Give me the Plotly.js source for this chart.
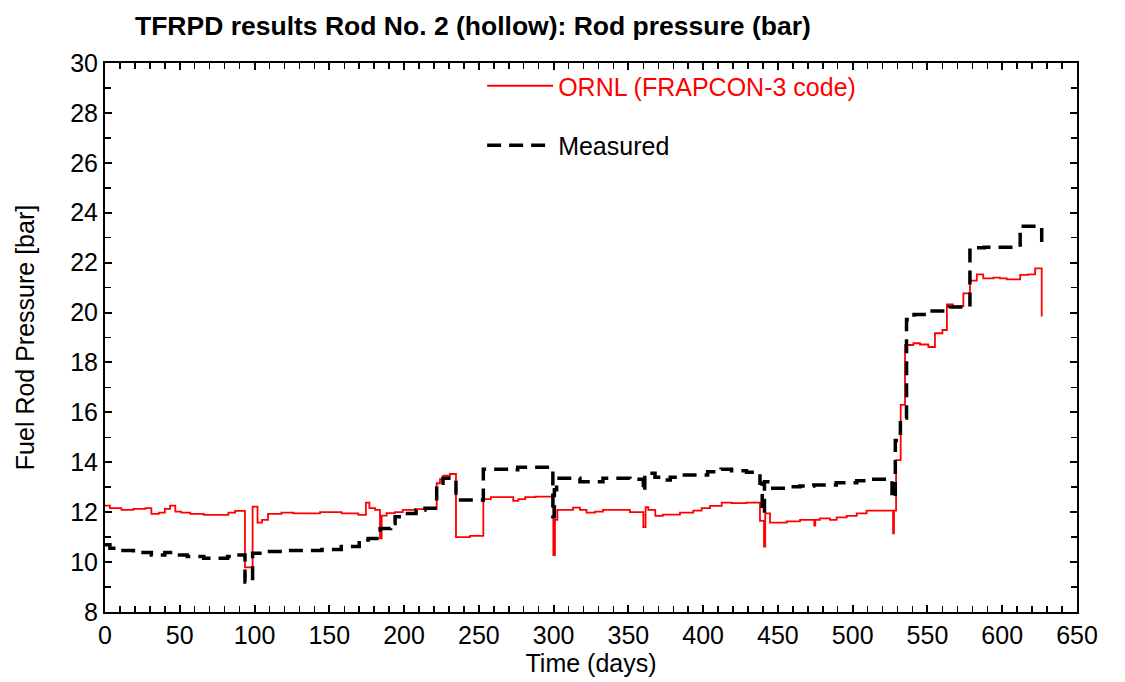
<!DOCTYPE html>
<html>
<head>
<meta charset="utf-8">
<script src="https://cdn.plot.ly/plotly-3.0.1.min.js"></script>
<style>html,body{margin:0;padding:0;background:#fff;}#chart{width:1125px;height:682px;}</style>
</head>
<body>
<div id="chart"></div>
<script>
// ORNL (FRAPCON-3 code) calculated rod pressure: step start day and value (bar)
const ornlDays = [0, 3.3, 11, 19, 27, 31, 36, 40, 43.5, 47, 51, 57, 66, 82.5, 87, 93.6, 98.7, 102, 105, 109, 118, 126, 143.8, 158.3, 169.4, 174.5, 176.8, 180.6, 183.9, 185, 188.4, 193.9, 199.1, 208.4, 221.8, 224, 226.2, 230.7, 234.7, 244.1, 253, 258, 273, 276.4, 281, 288, 299.8, 300.9, 302.5, 313, 317.6, 322, 327.7, 333, 351, 360, 361.5, 363.3, 368, 373, 384.5, 393.4, 399, 404.6, 412.4, 419, 429, 438, 440.7, 441.5, 444.7, 455.9, 464.8, 474.3, 475, 478, 484.8, 489.3, 496, 502.7, 509.3, 527, 527.6, 529, 532.1, 535, 540.6, 545, 550.6, 555, 560, 563, 567, 574, 578.4, 583, 587.3, 594, 598.5, 603, 612, 617.4, 622, 626.4];
const ornlPressure = [12.26, 12.16, 12.09, 12.13, 12.16, 11.93, 11.98, 12.13, 12.26, 12.02, 11.98, 11.93, 11.89, 11.98, 12.05, 9.79, 12.22, 11.58, 11.69, 11.93, 11.98, 11.95, 12.0, 11.95, 11.89, 12.38, 12.16, 12.09, 10.95, 11.86, 11.96, 12.0, 12.09, 12.12, 13.16, 13.32, 13.46, 13.53, 11.0, 11.05, 12.52, 12.6, 12.45, 12.52, 12.6, 12.62, 10.28, 11.69, 12.09, 12.18, 12.09, 11.98, 12.02, 12.09, 12.0, 11.4, 12.2, 12.09, 11.85, 11.9, 11.98, 12.06, 12.16, 12.25, 12.38, 12.36, 12.38, 11.65, 10.62, 11.95, 11.58, 11.63, 11.69, 11.46, 11.69, 11.75, 11.69, 11.79, 11.85, 11.95, 12.06, 11.15, 12.06, 14.09, 16.3, 18.7, 18.77, 18.72, 18.62, 19.17, 19.3, 20.33, 20.25, 20.77, 21.28, 21.53, 21.37, 21.4, 21.37, 21.33, 21.51, 21.53, 21.77, 19.84];

// Measured rod pressure: step start day and value (bar)
const measDays = [0, 3.3, 8, 19, 31, 40, 47, 55, 66, 82, 88, 93.6, 98.7, 110, 120, 145, 158, 170, 176, 184, 191, 194, 199, 208, 214, 221.8, 226, 234.7, 253, 270, 276, 299.5, 300.5, 302, 317.6, 333, 351, 360, 361, 367.8, 373, 378, 384.5, 403, 412, 419, 429, 438, 439.5, 441, 444.7, 455.9, 464.8, 474, 489, 502.7, 509, 526.3, 528.5, 531.9, 536, 541, 550, 564.5, 578.4, 588, 612, 626.4];
const measPressure = [10.69, 10.55, 10.46, 10.38, 10.28, 10.38, 10.28, 10.22, 10.15, 10.22, 10.28, 9.2, 10.35, 10.42, 10.46, 10.5, 10.62, 10.89, 10.95, 11.35, 11.55, 11.82, 11.95, 12.09, 12.16, 13.16, 13.36, 12.49, 13.72, 13.7, 13.8, 11.82, 12.9, 13.36, 13.22, 13.36, 13.32, 12.82, 13.56, 13.4, 13.29, 13.4, 13.49, 13.62, 13.72, 13.66, 13.6, 13.16, 11.96, 13.22, 12.96, 13.02, 13.05, 13.09, 13.18, 13.26, 13.32, 12.57, 14.87, 15.77, 19.72, 19.92, 20.06, 20.22, 22.6, 22.62, 23.46, 22.64];

const xTickVals = [0, 50, 100, 150, 200, 250, 300, 350, 400, 450, 500, 550, 600, 650];
const yTickVals = [8, 10, 12, 14, 16, 18, 20, 22, 24, 26, 28, 30];

const FONT = '"Liberation Sans", Arial, Helvetica, sans-serif';

const traces = [
  {
    x: ornlDays, y: ornlPressure, type: 'scatter', mode: 'lines',
    line: {shape: 'hv', color: '#ff0000', width: 1.8},
    name: '<span style="color:#ff0000">ORNL (FRAPCON-3 code)</span>',
    legendgroup: 'a'
  },
  {
    x: measDays, y: measPressure, type: 'scatter', mode: 'lines',
    line: {shape: 'hv', color: '#000000', width: 3.5, dash: '14px,8px'},
    name: 'Measured',
    legendgroup: 'b'
  }
];

const layout = {
  width: 1125, height: 682,
  paper_bgcolor: '#ffffff', plot_bgcolor: '#ffffff',
  margin: {l: 105, r: 48, t: 63, b: 70},
  font: {family: FONT, size: 25, color: '#000'},
  title: {
    text: '<b>TFRPD results Rod No. 2 (hollow): Rod pressure (bar)</b>',
    font: {family: FONT, size: 26.5, color: '#000'},
    x: 0.12, xref: 'container', xanchor: 'left',
    y: 0.963, yref: 'container', yanchor: 'middle'
  },
  xaxis: {
    range: [0, 650], tickvals: xTickVals, ticktext: xTickVals.map(String),
    ticks: 'inside', ticklen: 7, tickwidth: 2, tickcolor: '#000',
    minor: {dtick: 10, tick0: 0, ticks: 'inside', ticklen: 6, tickwidth: 1.5, tickcolor: '#000'},
    showline: true, linecolor: '#000', linewidth: 2, mirror: 'ticks',
    showgrid: false, zeroline: false,
    tickfont: {family: FONT, size: 25},
    title: {text: 'Time (days)', font: {family: FONT, size: 25}, standoff: 4}
  },
  yaxis: {
    range: [8, 30], tickvals: yTickVals, ticktext: yTickVals.map(String),
    ticks: 'inside', ticklen: 7, tickwidth: 2, tickcolor: '#000',
    minor: {dtick: 1, tick0: 8, ticks: 'inside', ticklen: 6, tickwidth: 1.5, tickcolor: '#000'},
    showline: true, linecolor: '#000', linewidth: 2, mirror: 'ticks',
    showgrid: false, zeroline: false,
    tickfont: {family: FONT, size: 25},
    title: {text: 'Fuel Rod Pressure [bar]', font: {family: FONT, size: 25}, standoff: 28}
  },
  xaxis2: {
    overlaying: 'x', anchor: 'y', range: [0, 650], tickvals: xTickVals,
    ticks: 'outside', ticklen: 7, tickwidth: 2, tickcolor: '#000', mirror: 'ticks',
    showticklabels: false, showline: false, showgrid: false, zeroline: false
  },
  yaxis2: {
    overlaying: 'y', anchor: 'x', side: 'left', range: [8, 30], tickvals: yTickVals,
    ticks: 'outside', ticklen: 7, tickwidth: 2, tickcolor: '#000',
    showticklabels: false, showline: false, showgrid: false, zeroline: false
  },
  showlegend: true,
  legend: {
    x: 0.388, y: 1.0, xanchor: 'left', yanchor: 'top',
    bgcolor: 'rgba(0,0,0,0)', borderwidth: 0,
    font: {family: FONT, size: 25, color: '#000'},
    tracegroupgap: 24, itemwidth: 66
  }
};

Plotly.newPlot('chart', traces, layout, {displayModeBar: false, staticPlot: true});
</script>
</body>
</html>
